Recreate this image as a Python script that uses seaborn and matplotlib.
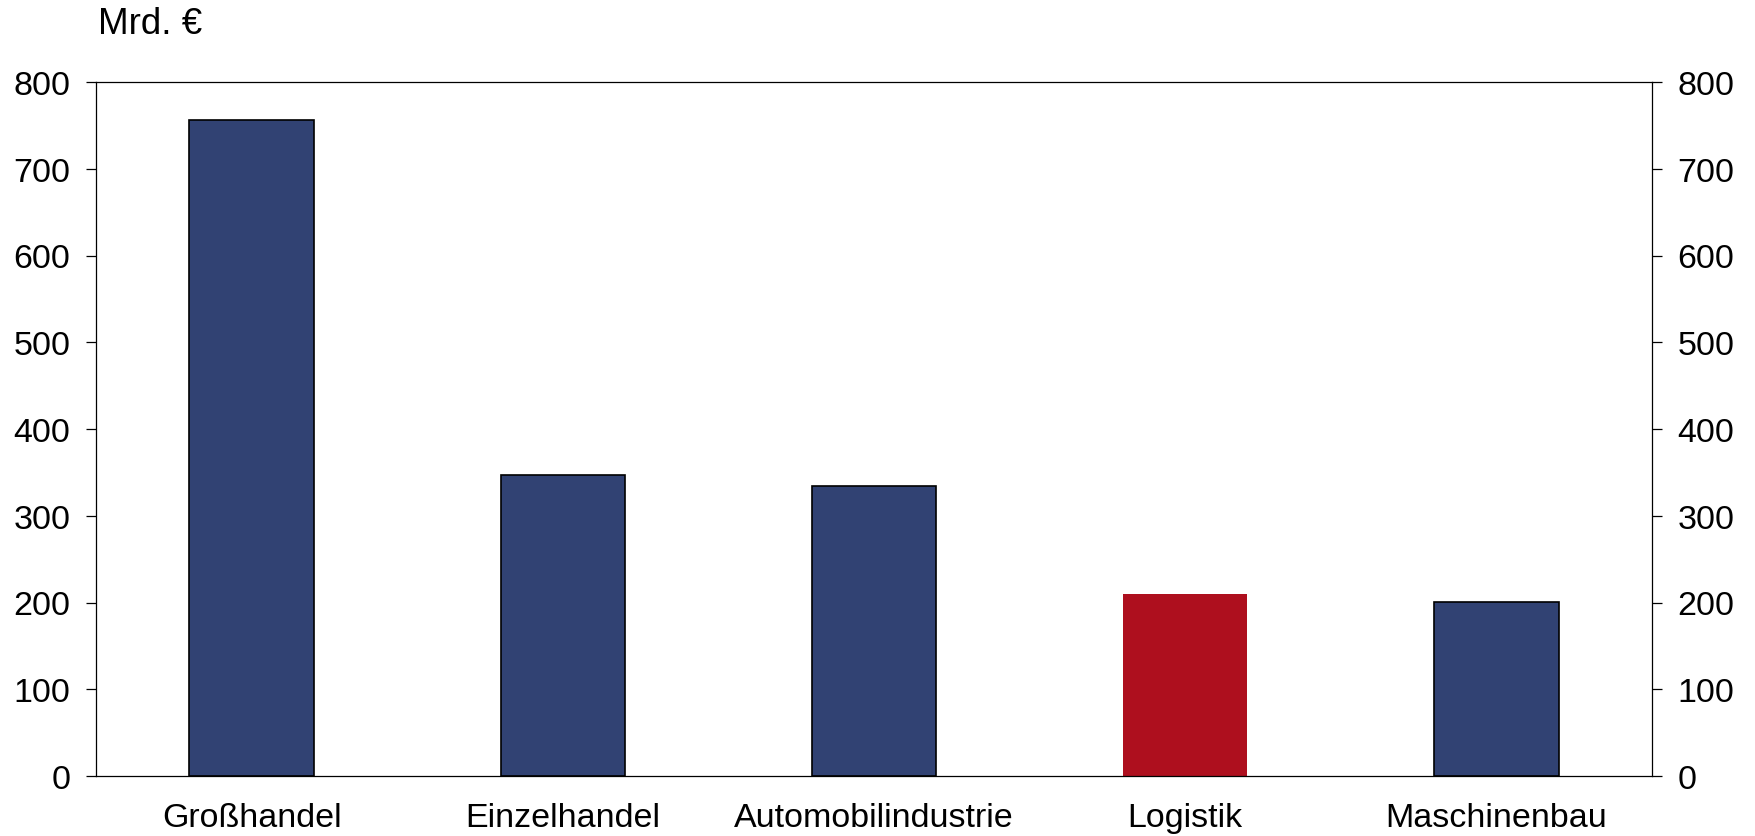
import matplotlib
matplotlib.use("Agg")
import matplotlib.pyplot as plt
import seaborn as sns
import pandas as pd

# data
branchen = ["Großhandel", "Einzelhandel", "Automobilindustrie", "Logistik", "Maschinenbau"]
umsatz = [756, 347, 334, 210, 201]
farben = ["#314273", "#314273", "#314273", "#AE0F1E", "#314273"]
y_ticks = [0, 100, 200, 300, 400, 500, 600, 700, 800]

df = pd.DataFrame({"Branche": branchen, "Umsatz": umsatz})

sns.set_style("white")
plt.rcParams["font.family"] = ["Liberation Sans", "DejaVu Sans"]
plt.rcParams["text.color"] = "black"
plt.rcParams["xtick.color"] = "black"
plt.rcParams["ytick.color"] = "black"

fig = plt.figure(figsize=(17.55, 8.37), dpi=100)
ax = fig.add_axes([96 / 1755, 1 - 777 / 837, (1652 - 96) / 1755, (777 - 83) / 837])

sns.barplot(data=df, x="Branche", y="Umsatz", hue="Branche",
            palette=dict(zip(branchen, farben)), legend=False,
            width=0.40, saturation=1, ax=ax)

# black outline on the blue bars, none on the red one
for patch, farbe in zip(ax.patches, farben):
    if farbe == "#AE0F1E":
        patch.set_edgecolor("none")
    else:
        patch.set_edgecolor("black")
        patch.set_linewidth(1.2)

ax.set_ylim(0, 800)
ax.set_xlim(-0.5, len(branchen) - 0.5)
ax.set_yticks(y_ticks)
ax.set_xlabel("")
ax.set_ylabel("")

for side in ["left", "right", "top", "bottom"]:
    ax.spines[side].set_visible(True)
    ax.spines[side].set_color("black")
    ax.spines[side].set_linewidth(0.9)

ax.tick_params(axis="y", which="both", left=True, right=True,
               labelleft=True, labelright=True, direction="out",
               length=7.5, width=0.9, color="black", labelcolor="black",
               labelsize=24.5, pad=11)
ax.tick_params(axis="x", bottom=False, labelsize=24.5, labelcolor="black", pad=15)

fig.text(98 / 1755, 1 - 34 / 837, "Mrd. €", fontsize=26.5, va="baseline", ha="left",
         color="black")

fig.savefig("out.png", dpi=100)
